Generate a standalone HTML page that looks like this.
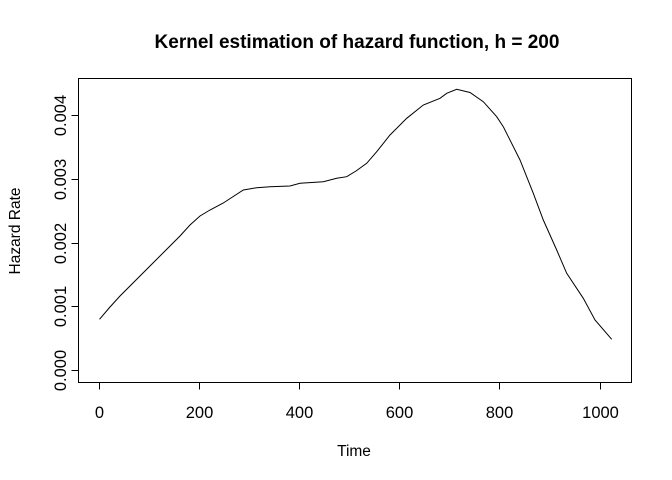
<!DOCTYPE html>
<html><head><style>
html,body{margin:0;padding:0;background:#fff;}
svg{display:block;font-family:"Liberation Sans",Arial,sans-serif;}
</style></head><body>
<svg width="672" height="480" xmlns="http://www.w3.org/2000/svg">
<rect x="0" y="0" width="672" height="480" fill="#fff"/>
<text x="357" y="48" text-anchor="middle" font-size="19" font-weight="bold">Kernel estimation of hazard function, h = 200</text>
<rect x="78.5" y="78.5" width="553" height="304" fill="none" stroke="#000" stroke-width="1"/>
<g stroke="#000" stroke-width="1">
<line x1="99.5" y1="382.5" x2="600.5" y2="382.5"/>
<line x1="99.5" y1="382.5" x2="99.5" y2="389.5"/>
<line x1="199.5" y1="382.5" x2="199.5" y2="389.5"/>
<line x1="299.5" y1="382.5" x2="299.5" y2="389.5"/>
<line x1="399.5" y1="382.5" x2="399.5" y2="389.5"/>
<line x1="499.5" y1="382.5" x2="499.5" y2="389.5"/>
<line x1="600.5" y1="382.5" x2="600.5" y2="389.5"/>
<line x1="78.5" y1="370.5" x2="78.5" y2="115.5"/>
<line x1="71.5" y1="370.5" x2="78.5" y2="370.5"/>
<line x1="71.5" y1="306.5" x2="78.5" y2="306.5"/>
<line x1="71.5" y1="243.5" x2="78.5" y2="243.5"/>
<line x1="71.5" y1="179.5" x2="78.5" y2="179.5"/>
<line x1="71.5" y1="115.5" x2="78.5" y2="115.5"/>
</g>
<g font-size="16.5" text-anchor="middle">
<text x="99.5" y="418">0</text>
<text x="199.5" y="418">200</text>
<text x="299.5" y="418">400</text>
<text x="399.5" y="418">600</text>
<text x="499.5" y="418">800</text>
<text x="600.5" y="418">1000</text>
<text transform="translate(66,370.5) rotate(-90)">0.000</text>
<text transform="translate(66,306.5) rotate(-90)">0.001</text>
<text transform="translate(66,243.5) rotate(-90)">0.002</text>
<text transform="translate(66,179.5) rotate(-90)">0.003</text>
<text transform="translate(66,115.5) rotate(-90)">0.004</text>
</g>
<g font-size="15.5" text-anchor="middle">
<text x="354" y="456">Time</text>
<text transform="translate(20,231) rotate(-90)">Hazard Rate</text>
</g>
<polyline fill="none" stroke="#000" stroke-width="1" points="99.5,319.3 110,307 120,296 135,281 150,266 165,251 180,236 190,225 200,216 210,210 223.3,203 243.3,190 256.7,187.7 270,186.7 290,186 300,183.3 323.3,181.7 336.7,178.3 346.7,176.7 356,171 366.7,163.3 376.7,151.7 390,135 406.7,118.3 423.3,105 440,98.3 446.7,93.3 456.7,89.3 470,92.5 483.3,101.7 496.7,116.7 503.3,126.7 520,160 533.3,193.3 543.3,220 556.7,250 566.7,273.3 583.3,298.3 595,320 611.7,339.3"/>
</svg>
</body></html>
